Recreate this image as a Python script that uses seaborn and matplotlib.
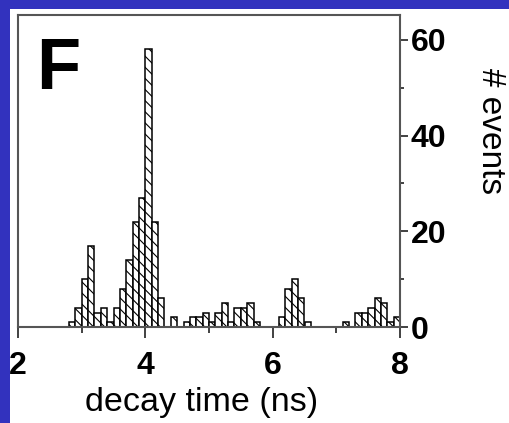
import numpy as np
import pandas as pd
import matplotlib
matplotlib.use("Agg")
import matplotlib.pyplot as plt
from matplotlib.patches import Rectangle
import seaborn as sns

# Fluorescence decay-time histogram, 0.1 ns bins from 2.8 to 8.0 ns
bin_start = 2.8
bin_width = 0.1
counts = [1, 4, 10, 17, 3, 4, 1, 4, 8, 14, 22, 27, 58, 22, 6, 0, 2, 0, 1, 2,
          2, 3, 1, 3, 5, 1, 4, 4, 5, 1, 0, 0, 0, 2, 8, 10, 6, 1, 0, 0,
          0, 0, 0, 1, 0, 3, 3, 4, 6, 5, 1, 2]
x_ticks = [2, 4, 6, 8]
y_ticks = [0, 20, 40, 60]
panel_letter = "F"
x_label = "decay time (ns)"
y_label = "# events"

n_bins = len(counts)
edges = [round(bin_start + bin_width * i, 2) for i in range(n_bins + 1)]
centers = [(a + b) / 2 for a, b in zip(edges[:-1], edges[1:])]
df = pd.DataFrame({"decay": centers, "n": counts})

sns.set_style("white")
plt.rcParams["font.family"] = ["Liberation Sans", "DejaVu Sans"]
plt.rcParams["hatch.linewidth"] = 0.8
plt.rcParams["text.color"] = "black"
plt.rcParams["xtick.color"] = "black"
plt.rcParams["ytick.color"] = "black"

W, H = 509, 423
fig = plt.figure(figsize=(W / 100, H / 100), dpi=100)
fig.patch.set_facecolor("#3232BE")
fig.patches.append(Rectangle((10 / W, 0), 1 - 10 / W, (H - 9) / H,
                             transform=fig.transFigure, facecolor="white",
                             edgecolor="none", zorder=-5))

ax = fig.add_axes([18 / W, (H - 327) / H, (400 - 18) / W, (327 - 15) / H])
ax.set_facecolor("white")

sns.histplot(data=df, x="decay", weights="n", bins=edges, ax=ax,
             color="white", edgecolor="black", linewidth=1.1, alpha=1.0)
for p in ax.patches:
    p.set_hatch("\\\\\\")

ax.set_xlim(2, 8)
ax.set_ylim(0, 65.2)
ax.set_xlabel("")
ax.set_ylabel("")

ax.yaxis.tick_right()
ax.set_xticks(x_ticks)
ax.set_xticks([3, 5, 7], minor=True)
ax.set_yticks(y_ticks)
ax.set_yticks([10, 30, 50], minor=True)
ax.set_xticklabels([str(t) for t in x_ticks], fontsize=23, fontweight="bold")
ax.set_yticklabels([str(t) for t in y_ticks], fontsize=23, fontweight="bold")
ax.tick_params(axis="x", which="major", direction="out", length=8, width=1.3,
               color="#333333", pad=9, bottom=True)
ax.tick_params(axis="x", which="minor", direction="out", length=4, width=1.3,
               color="#333333", bottom=True)
ax.tick_params(axis="y", which="major", direction="out", length=6, width=1.3,
               color="#333333", pad=1.5, right=True, left=False)
ax.tick_params(axis="y", which="minor", direction="out", length=3, width=1.3,
               color="#333333", right=True, left=False)

for side in ["left", "right", "top", "bottom"]:
    ax.spines[side].set_visible(True)
    ax.spines[side].set_color("#555555")
    ax.spines[side].set_linewidth(1.5)

fig.text(202 / W, 1 - 402 / H, x_label, fontsize=24.5, ha="center", va="center")
fig.text(490 / W, 1 - 131 / H, y_label, fontsize=24, rotation=-90,
         ha="center", va="center")
fig.text(36 / W, 1 - 89 / H, panel_letter, fontsize=52, fontweight="bold",
         ha="left", va="baseline")

fig.savefig("out.png", dpi=100, facecolor=fig.get_facecolor())
